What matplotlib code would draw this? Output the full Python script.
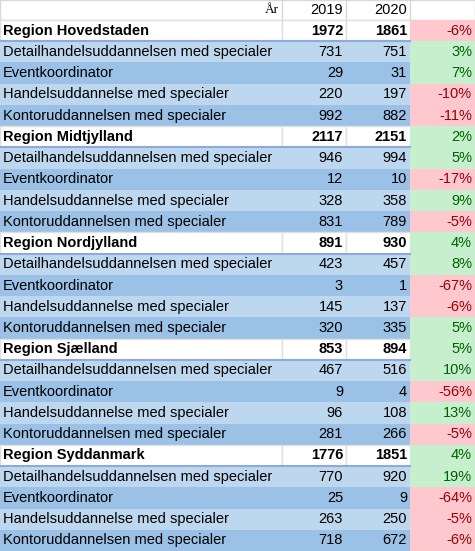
import matplotlib
matplotlib.use("Agg")
import matplotlib.pyplot as plt
from matplotlib.patches import Rectangle

regions = ["Region Hovedstaden", "Region Midtjylland", "Region Nordjylland",
           "Region Sjælland", "Region Syddanmark"]
region_2019 = [1972, 2117, 891, 853, 1776]
region_2020 = [1861, 2151, 930, 894, 1851]
region_pct = [-6, 2, 4, 5, 4]

educations = ["Detailhandelsuddannelsen med specialer", "Eventkoordinator",
              "Handelsuddannelse med specialer", "Kontoruddannelsen med specialer"]
edu_2019 = [[731, 29, 220, 992], [946, 12, 328, 831], [423, 3, 145, 320],
            [467, 9, 96, 281], [770, 25, 263, 718]]
edu_2020 = [[751, 31, 197, 882], [994, 10, 358, 789], [457, 1, 137, 335],
            [516, 4, 108, 266], [920, 9, 250, 672]]
edu_pct = [[3, 7, -10, -11], [5, -17, 9, -5], [8, -67, -6, 5],
           [10, -56, 13, -5], [19, -64, -5, -6]]

W, H = 475, 551
plt.rcParams['font.family'] = ['Liberation Sans', 'DejaVu Sans']
fig = plt.figure(figsize=(W / 100, H / 100), dpi=100)
ax = fig.add_axes([0, 0, 1, 1])
ax.set_xlim(0, W)
ax.set_ylim(H, 0)
ax.axis("off")

cols = [0, 282, 346, 410, 475]
row_h = (H - 20) / 25
fs = 10.5
GREEN, GREEN_T = "#C6EFCE", "#006100"
RED, RED_T = "#FFC7CE", "#9C0006"
LIGHT, DARK = "#BDD7EE", "#9BC2E6"


def cell(x0, x1, y, h, bg, text, ha, color="black", bold=False, edge="none"):
    ax.add_patch(Rectangle((x0, y), x1 - x0, h, facecolor=bg, edgecolor=edge, lw=1))
    tx = x0 + 3 if ha == "left" else x1 - 3
    ax.text(tx, y + h / 2, text, ha=ha, va="center", fontsize=fs, color=color,
            fontweight="bold" if bold else "normal")


# header
ax.add_patch(Rectangle((0, 0), W, 20, facecolor="white", edgecolor="#D9D9D9", lw=1))
for x in cols[1:-1]:
    ax.plot([x, x], [0, 20], color="#D9D9D9", lw=1)
ax.text(cols[1] - 3, 10, "År", ha="right", va="center", fontsize=fs - 1, family="Liberation Serif")
ax.text(cols[2] - 3, 10, "2019", ha="right", va="center", fontsize=fs)
ax.text(cols[3] - 3, 10, "2020", ha="right", va="center", fontsize=fs)

y = 20
for i, reg in enumerate(regions):
    p = region_pct[i]
    cell(cols[0], cols[1], y, row_h, "white", reg, "left", bold=True, edge="#E0E0E0")
    cell(cols[1], cols[2], y, row_h, "white", str(region_2019[i]), "right", bold=True, edge="#E0E0E0")
    cell(cols[2], cols[3], y, row_h, "white", str(region_2020[i]), "right", bold=True, edge="#E0E0E0")
    cell(cols[3], cols[4], y, row_h, GREEN if p >= 0 else RED, f"{p}%", "right",
         color=GREEN_T if p >= 0 else RED_T)
    y += row_h
    for j, edu in enumerate(educations):
        bg = LIGHT if j % 2 == 0 else DARK
        p = edu_pct[i][j]
        cell(cols[0], cols[1], y, row_h, bg, edu, "left")
        cell(cols[1], cols[2], y, row_h, bg, str(edu_2019[i][j]), "right")
        cell(cols[2], cols[3], y, row_h, bg, str(edu_2020[i][j]), "right")
        cell(cols[3], cols[4], y, row_h, GREEN if p >= 0 else RED, f"{p}%", "right",
             color=GREEN_T if p >= 0 else RED_T)
        y += row_h
    ax.plot([0, cols[3]], [y - 4 * row_h, y - 4 * row_h], color="#8EA9DB", lw=1.5)

fig.savefig("out.png", dpi=100)
